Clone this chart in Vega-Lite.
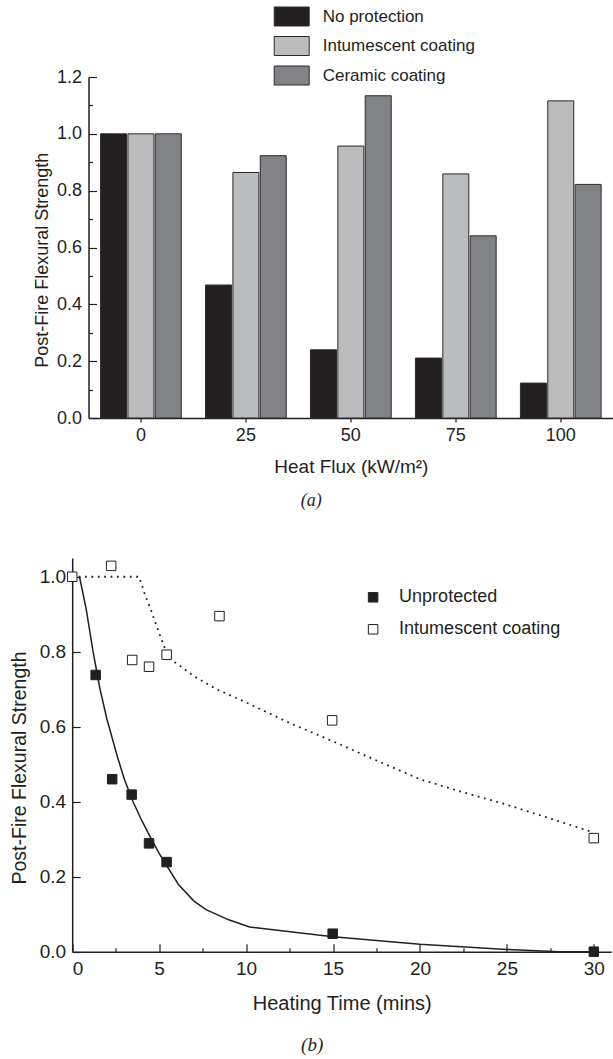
{
  "$schema": "https://vega.github.io/schema/vega-lite/v6.json",
  "padding": {"left": 8.5, "top": 6, "right": 0, "bottom": 0},
  "spacing": 48,
  "resolve": {"scale": {"color": "independent", "fill": "independent"}, "legend": {"color": "independent", "fill": "independent"}},
  "config": {
    "view": {"stroke": null},
    "font": "Liberation Sans",
    "axis": {"grid": false, "domainColor": "#231f20", "domainWidth": 1.5, "tickColor": "#231f20", "tickWidth": 1.2, "labelColor": "#231f20", "labelFont": "Liberation Sans", "titleFont": "Liberation Sans", "titleFontWeight": "normal", "titleColor": "#231f20", "labelOverlap": false},
    "legend": {"labelFont": "Liberation Sans", "labelColor": "#231f20", "labelLimit": 400}
  },
  "vconcat": [
    {
      "width": 524.7,
      "height": 341,
      "data": {"values": [
        {"flux": 0, "series": "No protection", "strength": 1.0},
        {"flux": 0, "series": "Intumescent coating", "strength": 1.0},
        {"flux": 0, "series": "Ceramic coating", "strength": 1.0},
        {"flux": 25, "series": "No protection", "strength": 0.468},
        {"flux": 25, "series": "Intumescent coating", "strength": 0.864},
        {"flux": 25, "series": "Ceramic coating", "strength": 0.923},
        {"flux": 50, "series": "No protection", "strength": 0.240},
        {"flux": 50, "series": "Intumescent coating", "strength": 0.957},
        {"flux": 50, "series": "Ceramic coating", "strength": 1.134},
        {"flux": 75, "series": "No protection", "strength": 0.211},
        {"flux": 75, "series": "Intumescent coating", "strength": 0.859},
        {"flux": 75, "series": "Ceramic coating", "strength": 0.641},
        {"flux": 100, "series": "No protection", "strength": 0.123},
        {"flux": 100, "series": "Intumescent coating", "strength": 1.116},
        {"flux": 100, "series": "Ceramic coating", "strength": 0.822}
      ]},
      "mark": {"type": "bar", "stroke": "#2b2b2b", "strokeWidth": 1},
      "encoding": {
        "x": {"field": "flux", "type": "ordinal",
          "scale": {"paddingInner": 0.231, "paddingOuter": 0.115},
          "axis": {"labelAngle": 0, "labelFontSize": 18, "tickSize": 4, "labelPadding": 4, "title": "Heat Flux (kW/m²)", "titleFontSize": 19, "titlePadding": 13}},
        "xOffset": {"field": "series", "type": "nominal", "sort": ["No protection", "Intumescent coating", "Ceramic coating"], "scale": {"paddingInner": 0.05}},
        "y": {"field": "strength", "type": "quantitative",
          "scale": {"domain": [0, 1.2], "nice": false},
          "axis": {"values": [0, 0.1, 0.2, 0.3, 0.4, 0.5, 0.6, 0.7, 0.8, 0.9, 1.0, 1.1, 1.2],
            "labelExpr": "round(datum.value*10)%2==0 ? format(datum.value,'.1f') : ''",
            "tickSize": {"condition": {"test": "round(datum.value*10)%2==1", "value": -4}, "value": -8},
            "labelPadding": 15, "labelFontSize": 18,
            "title": "Post-Fire Flexural Strength",
            "titleX": -36.8, "titleY": 182.7, "titleFontSize": 18, "titleAngle": 270, "titleBaseline": "bottom", "titleAlign": "center"}},
        "color": {"field": "series", "type": "nominal", "sort": ["No protection", "Intumescent coating", "Ceramic coating"],
          "scale": {"domain": ["No protection", "Intumescent coating", "Ceramic coating"], "range": ["#231f20", "#bbbcbe", "#828387"]},
          "legend": {"orient": "none", "legendX": 193.2, "legendY": -70.5, "title": null, "symbolType": "M-1.84,-1H1.84V1H-1.84Z", "symbolSize": 361, "symbolStrokeColor": "#2b2b2b", "symbolStrokeWidth": 1, "symbolOpacity": 1, "labelFontSize": 17, "labelOffset": 21, "rowPadding": 5.5, "padding": 0}}
      },
      "title": {"text": "(a)", "orient": "bottom", "anchor": "middle", "frame": "group", "dx": -39.7, "offset": 16, "font": "Liberation Serif", "fontStyle": "italic", "fontWeight": "normal", "fontSize": 18, "color": "#231f20", "baseline": "top"}
    },
    {
      "width": 522.7,
      "height": 393.7,
      "layer": [
        {
          "data": {"values": [
            {"t": 0.42, "s": 1.0}, {"t": 0.8, "s": 0.915}, {"t": 1.2, "s": 0.8}, {"t": 1.6, "s": 0.7},
            {"t": 2.0, "s": 0.62}, {"t": 2.6, "s": 0.52}, {"t": 3.0, "s": 0.46}, {"t": 3.5, "s": 0.40},
            {"t": 4.0, "s": 0.35}, {"t": 4.5, "s": 0.305}, {"t": 5.0, "s": 0.262}, {"t": 6.1, "s": 0.18},
            {"t": 7.0, "s": 0.135}, {"t": 7.7, "s": 0.112}, {"t": 9.0, "s": 0.085}, {"t": 10.2, "s": 0.066},
            {"t": 15, "s": 0.04}, {"t": 20, "s": 0.02}, {"t": 25, "s": 0.006}, {"t": 28, "s": 0.0}, {"t": 30, "s": 0.0}
          ]},
          "mark": {"type": "line", "color": "#231f20", "strokeWidth": 1.5},
          "encoding": {
            "x": {"field": "t", "type": "quantitative",
              "scale": {"domain": [0, 31], "nice": false, "range": [-16.3, 522.7]},
              "axis": {"values": [0, 2.5, 5, 7.5, 10, 12.5, 15, 17.5, 20, 22.5, 25, 27.5, 30],
                "labelExpr": "datum.value%5==0 ? format(datum.value,'d') : ''",
                "tickSize": {"condition": {"test": "datum.value%5!=0", "value": -4}, "value": -8},
                "labelPadding": 16, "labelFontSize": 19,
                "title": "Heating Time (mins)", "titleFontSize": 20, "titlePadding": 11}},
            "y": {"field": "s", "type": "quantitative",
              "scale": {"domain": [0, 1.05], "nice": false},
              "axis": {"offset": 16.3, "values": [0, 0.1, 0.2, 0.3, 0.4, 0.5, 0.6, 0.7, 0.8, 0.9, 1.0],
                "labelExpr": "round(datum.value*10)%2==0 ? format(datum.value,'.1f') : ''",
                "tickSize": {"condition": {"test": "round(datum.value*10)%2==1", "value": -5}, "value": -8},
                "labelPadding": 14.5, "labelFontSize": 19,
                "title": "Post-Fire Flexural Strength", "titleX": -43, "titleY": 209.5, "titleFontSize": 19.5, "titleAngle": 270, "titleBaseline": "bottom", "titleAlign": "center"}}
          }
        },
        {
          "data": {"values": [
            {"t": 0, "s": 1.0}, {"t": 3.85, "s": 1.0}, {"t": 4.2, "s": 0.95}, {"t": 4.5, "s": 0.915},
            {"t": 5.0, "s": 0.85}, {"t": 5.4, "s": 0.8}, {"t": 5.9, "s": 0.772}, {"t": 7.0, "s": 0.735},
            {"t": 8.3, "s": 0.70}, {"t": 10, "s": 0.665}, {"t": 12.5, "s": 0.61}, {"t": 14.9, "s": 0.563},
            {"t": 17.5, "s": 0.51}, {"t": 20, "s": 0.46}, {"t": 22.5, "s": 0.425}, {"t": 25, "s": 0.392},
            {"t": 27.5, "s": 0.355}, {"t": 30, "s": 0.318}
          ]},
          "mark": {"type": "line", "color": "#231f20", "strokeWidth": 1.8, "strokeDash": [1.8, 4.6]},
          "encoding": {
            "x": {"field": "t", "type": "quantitative"},
            "y": {"field": "s", "type": "quantitative"}
          }
        },
        {
          "data": {"values": [
            {"series": "Unprotected", "t": 1.35, "s": 0.738},
            {"series": "Unprotected", "t": 2.3, "s": 0.46},
            {"series": "Unprotected", "t": 3.42, "s": 0.419},
            {"series": "Unprotected", "t": 4.42, "s": 0.289},
            {"series": "Unprotected", "t": 5.43, "s": 0.239},
            {"series": "Unprotected", "t": 14.98, "s": 0.048},
            {"series": "Unprotected", "t": 30, "s": 0.0},
            {"series": "Intumescent coating", "t": 0, "s": 1.0},
            {"series": "Intumescent coating", "t": 2.24, "s": 1.029},
            {"series": "Intumescent coating", "t": 3.45, "s": 0.778},
            {"series": "Intumescent coating", "t": 4.42, "s": 0.760},
            {"series": "Intumescent coating", "t": 5.43, "s": 0.792},
            {"series": "Intumescent coating", "t": 8.47, "s": 0.895},
            {"series": "Intumescent coating", "t": 14.95, "s": 0.617},
            {"series": "Intumescent coating", "t": 30, "s": 0.303}
          ]},
          "mark": {"type": "point", "shape": "square", "size": 90, "filled": true, "stroke": "#231f20", "strokeWidth": 1, "opacity": 1},
          "encoding": {
            "x": {"field": "t", "type": "quantitative"},
            "y": {"field": "s", "type": "quantitative"},
            "fill": {"field": "series", "type": "nominal", "sort": ["Unprotected", "Intumescent coating"],
              "scale": {"domain": ["Unprotected", "Intumescent coating"], "range": ["#231f20", "#ffffff"]},
              "legend": {"orient": "none", "legendX": 275.6, "legendY": 30.3, "title": null, "symbolType": "square", "symbolSize": 90, "symbolStrokeColor": "#231f20", "symbolStrokeWidth": 1, "symbolOpacity": 1, "labelFontSize": 18, "labelOffset": 17, "rowPadding": 14, "padding": 0}}
          }
        }
      ],
      "title": {"text": "(b)", "orient": "bottom", "anchor": "middle", "frame": "group", "dx": -37.65, "offset": 22, "font": "Liberation Serif", "fontStyle": "italic", "fontWeight": "normal", "fontSize": 19, "color": "#231f20", "baseline": "top"}
    }
  ]
}
